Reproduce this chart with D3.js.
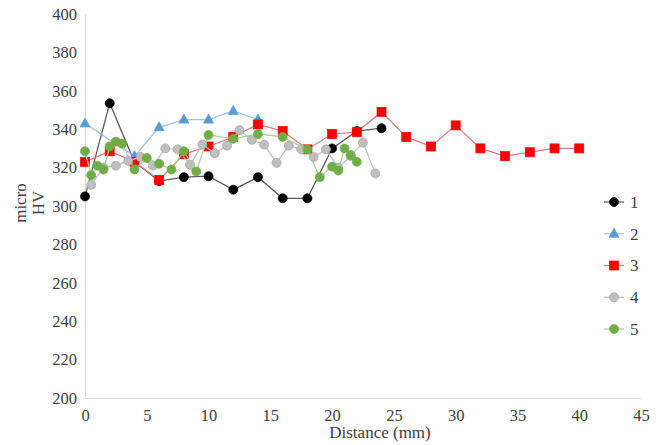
<!DOCTYPE html>
<html><head><meta charset="utf-8">
<script src="https://cdn.jsdelivr.net/npm/d3@7/dist/d3.min.js"></script>
<style>body{margin:0;background:#fff}svg{display:block}</style>
</head><body><svg id="c" width="659" height="445"></svg>
<script>
const seriesNames = ["1","2","3","4","5"];
const s1 = [[0,305],[2,353.5],[4,323],[6,313],[8,315],[10,315.5],[12,308.5],[14,315],[16,304],[18,304],[20,330],[22,339],[24,340.5]];
const s2 = [[0,343],[4,326],[6,341],[8,345],[10,345],[12,349.5],[14,345]];
const s3 = [[0,323],[2,328.5],[4,323],[6,313.5],[8,327],[10,331],[12,336],[14,342.5],[16,339],[18,329.5],[20,337.5],[22,338.5],[24,349],[26,336],[28,331],[30,342],[32,330],[34,326],[36,328],[38,330],[40,330]];
const s4 = [[0.5,311],[1.5,320],[2.5,321],[3.5,323.5],[4.5,325.5],[5.5,321],[6.5,330],[7.5,329.5],[8.5,321.5],[9.5,332],[10.5,327.5],[11.5,331.5],[12.5,339.5],[13.5,334.5],[14.5,332],[15.5,322.5],[16.5,331.5],[17.5,329.5],[18.5,325.5],[19.5,329.5],[20.5,320],[21.5,326],[22.5,333],[23.5,317]];
const s5 = [[0,328.5],[0.5,316],[1,321],[1.5,319],[2,331],[2.5,333.5],[3,332.5],[4,319],[5,325],[6,322],[7,319],[8,328.5],[9,318],[10,337],[12,335],[14,337.5],[16,336],[18,329.5],[19,315],[20,320.5],[20.5,318.5],[21,330],[21.5,326.5],[22,323]];
const xTicks = [0,5,10,15,20,25,30,35,40,45];
const yTicks = [200,220,240,260,280,300,320,340,360,380,400];
const xTitle = "Distance (mm)";
const yTitle = ["micro","HV"];

const FONT = "'Liberation Serif','Times New Roman',Times,serif";
const TXT = "#404040";
const styles = [
  {marker:"circle", fill:"#000000", stroke:"#000000", line:"#595959"},
  {marker:"triangle", fill:"#5B9BD5", stroke:"#5B9BD5", line:"#9DC3E6"},
  {marker:"square", fill:"#FF0000", stroke:"#FF0000", line:"#E07C7C"},
  {marker:"circle", fill:"#BFBFBF", stroke:"#A6A6A6", line:"#BFBFBF"},
  {marker:"circle", fill:"#70AD47", stroke:"#70AD47", line:"#A9D18E"}
];
const data = [s1,s2,s3,s4,s5];

const svg = d3.select("#c");
const x = d3.scaleLinear().domain([0,45]).range([85,641]);
const y = d3.scaleLinear().domain([200,400]).range([398,14]);

const xa = svg.append("g").attr("transform","translate(0,398)")
  .call(d3.axisBottom(x).tickValues(xTicks).tickSize(0).tickPadding(8));
const ya = svg.append("g").attr("transform","translate(85,0)")
  .call(d3.axisLeft(y).tickValues(yTicks).tickSize(0).tickPadding(8));
[xa,ya].forEach(a=>{
  a.attr("font-family",FONT).attr("font-size",16.5);
  a.select(".domain").attr("stroke","#D9D9D9").attr("stroke-width",1);
  a.selectAll("text").attr("fill",TXT);
});
xa.selectAll("text").attr("dy","0.9em");

svg.append("text").attr("x",380).attr("y",438).attr("text-anchor","middle")
  .attr("font-family",FONT).attr("font-size",17).attr("fill",TXT).text(xTitle);
const yt = svg.append("text").attr("transform","translate(20,203) rotate(-90)").attr("text-anchor","middle")
  .attr("font-family",FONT).attr("font-size",17).attr("fill",TXT);
yt.append("tspan").attr("x",0).attr("dy","0.35em").text(yTitle[0]);
yt.append("tspan").attr("x",0).attr("dy","1.05em").text(yTitle[1]);

const line = d3.line().x(d=>x(d[0])).y(d=>y(d[1]));
function drawMarker(g, st, cx, cy){
  if(st.marker==="circle") g.append("circle").attr("cx",cx).attr("cy",cy).attr("r",4.5).attr("fill",st.fill).attr("stroke",st.stroke).attr("stroke-width",0.75);
  else if(st.marker==="square") g.append("rect").attr("x",cx-4.5).attr("y",cy-4.5).attr("width",9).attr("height",9).attr("fill",st.fill).attr("stroke",st.stroke).attr("stroke-width",0.75);
  else g.append("path").attr("d",`M${cx},${cy-5.5}L${cx+5},${cy+3.5}L${cx-5},${cy+3.5}Z`).attr("fill",st.fill).attr("stroke",st.stroke).attr("stroke-width",0.75);
}
data.forEach((ser,i)=>{
  const st = styles[i];
  const g = svg.append("g");
  g.append("path").datum(ser).attr("d",line).attr("fill","none").attr("stroke",st.line).attr("stroke-width",1.25);
  ser.forEach(d=>drawMarker(g, st, x(d[0]), y(d[1])));
});

const legY0 = 202, legDy = 31.75;
seriesNames.forEach((n,i)=>{
  const st = styles[i];
  const ly = legY0 + i*legDy;
  const g = svg.append("g");
  g.append("line").attr("x1",604).attr("x2",624).attr("y1",ly).attr("y2",ly).attr("stroke",st.line).attr("stroke-width",1.25);
  drawMarker(g, st, 614, ly);
  g.append("text").attr("x",630).attr("y",ly).attr("dy","0.35em")
    .attr("font-family",FONT).attr("font-size",17).attr("fill",TXT).text(n);
});
</script></body></html>
